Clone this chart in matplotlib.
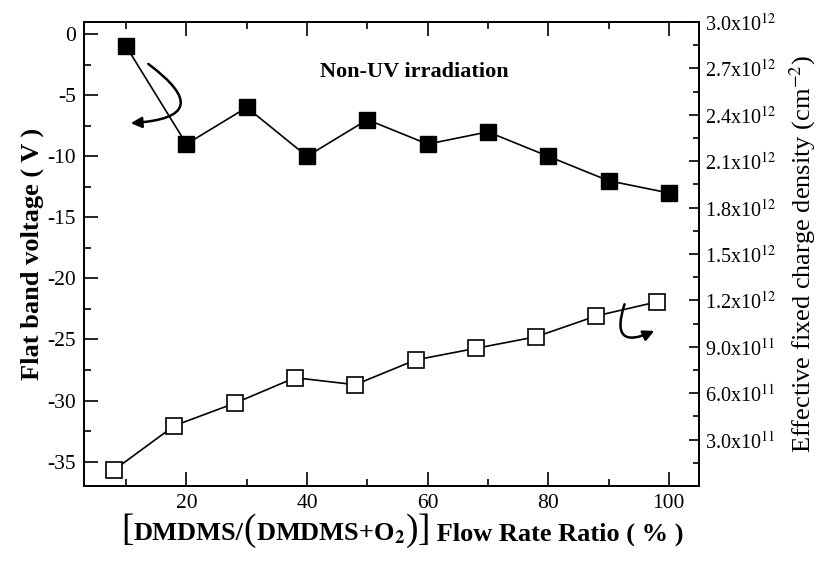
import numpy as np
import matplotlib
matplotlib.use('Agg')
import matplotlib.pyplot as plt
from matplotlib.ticker import MultipleLocator, FuncFormatter
from matplotlib.offsetbox import TextArea, HPacker, AnchoredOffsetbox

plt.rcParams['font.family'] = ['Liberation Serif', 'DejaVu Serif']
plt.rcParams['mathtext.fontset'] = 'stix'
plt.rcParams['axes.unicode_minus'] = False

# flat band voltage (left axis, filled squares)
ratio_vfb = [10, 20, 30, 40, 50, 60, 70, 80, 90, 100]
vfb = [-1, -9, -6, -10, -7, -9, -8, -10, -12, -13]

# effective fixed charge density (right axis, open squares)
ratio_qf = [8, 18, 28, 38, 48, 58, 68, 78, 88, 98]
qf = [1.04e11, 3.9e11, 5.35e11, 7.0e11, 6.55e11, 8.15e11, 8.9e11, 9.65e11, 1.10e12, 1.19e12]

fig = plt.figure(figsize=(8.2, 5.61), dpi=100)
ax = fig.add_axes([0.1024, 0.1337, 0.75, 0.8271])
ax2 = ax.twinx()

ax.plot(ratio_vfb, vfb, color='black', lw=1.2, marker='s', ms=12,
        mfc='black', mec='black')
ax2.plot(ratio_qf, qf, color='black', lw=1.2, marker='s', ms=12,
         mfc='white', mec='black', mew=1.2)

ax.set_xlim(3, 105)
ax.set_ylim(-37, 1)
ax2.set_ylim(0, 3.0e12)

ax.xaxis.set_major_locator(MultipleLocator(20))
ax.xaxis.set_minor_locator(MultipleLocator(10))
ax.yaxis.set_major_locator(MultipleLocator(5))
ax.yaxis.set_minor_locator(MultipleLocator(2.5))
ax2.yaxis.set_major_locator(MultipleLocator(3e11))
ax2.yaxis.set_minor_locator(MultipleLocator(1.5e11))


def sci_fmt(v, pos):
    if v <= 0:
        return ''
    e = int(np.floor(np.log10(v)))
    m = v / 10 ** e
    return r'%.1fx10$^{%d}$' % (m, e)


ax2.yaxis.set_major_formatter(FuncFormatter(sci_fmt))

ax.tick_params(axis='both', which='major', direction='in', length=10, width=1.2,
               labelsize=15.5, top=True, pad=6)
ax.tick_params(axis='both', which='minor', direction='in', length=5, width=1.2, top=True)
ax.tick_params(axis='y', right=False, which='both')
ax2.tick_params(axis='y', which='major', direction='in', length=7, width=1.2,
                labelsize=14.5, pad=4)
ax2.tick_params(axis='y', which='minor', direction='in', length=4, width=1.2)

for a in (ax, ax2):
    for s in a.spines.values():
        s.set_linewidth(1.3)

ax.set_ylabel('Flat band voltage ( V )', fontsize=19, fontweight='bold', labelpad=2)
ax2.set_ylabel(r'Effective fixed charge density (cm$^{-2}$)', fontsize=19, labelpad=8)

# x label: tall thin brackets around bold text
big = dict(size=27, weight='normal')
bold = dict(size=19, weight='bold')
parts = [TextArea('[', textprops=big),
         TextArea('DMDMS/', textprops=bold),
         TextArea('(', textprops=big),
         TextArea(r'DMDMS+O$_\mathbf{2}$', textprops=bold),
         TextArea(')', textprops=big),
         TextArea(']', textprops=big),
         TextArea(' Flow Rate Ratio ( % )', textprops=bold)]
xlab = HPacker(children=parts, align='baseline', pad=0, sep=0)
ax.add_artist(AnchoredOffsetbox(loc='center', child=xlab, pad=0, frameon=False,
                                bbox_to_anchor=(0.518, -0.097),
                                bbox_transform=ax.transAxes, borderpad=0))

ax.text(0.537, 0.892, 'Non-UV irradiation', transform=ax.transAxes, ha='center',
        va='center', fontsize=16, fontweight='bold')

# curved arrows pointing to each series' axis
ax.annotate('', xy=(10.3, -7.3), xytext=(13.3, -2.3),
            arrowprops=dict(arrowstyle='-|>', color='black', lw=1.8,
                            connectionstyle='arc3,rad=-1.4', mutation_scale=16))
ax.annotate('', xy=(98.0, -24.2), xytext=(92.8, -21.9),
            arrowprops=dict(arrowstyle='-|>', color='black', lw=1.8,
                            connectionstyle='arc3,rad=1.2', mutation_scale=16))

fig.savefig('out.png', dpi=100)
